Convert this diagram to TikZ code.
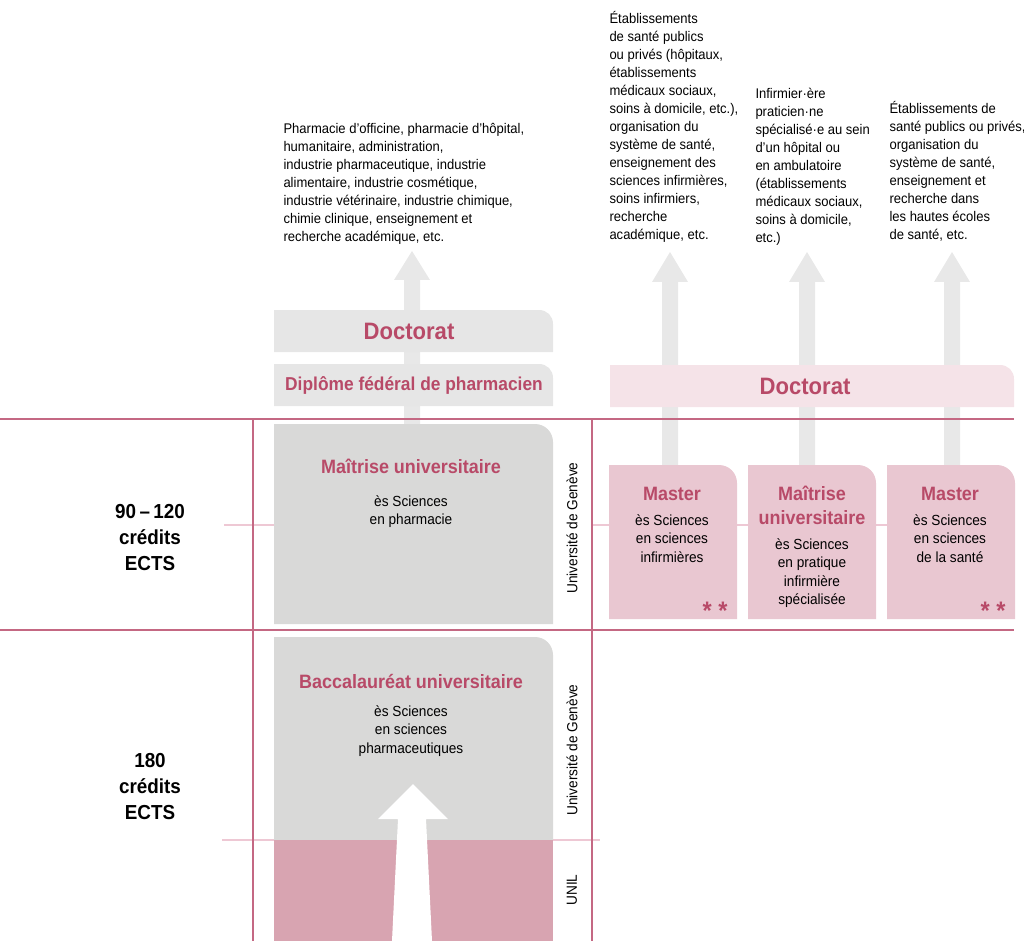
\documentclass[tikz,border=0pt]{standalone}
\usepackage{fontspec}
\setmainfont{Liberation Sans}[FakeStretch=0.93]
\definecolor{rosetext}{RGB}{184,74,104}
\definecolor{roseline}{RGB}{196,104,131}
\definecolor{rosesoft}{RGB}{238,200,212}
\definecolor{greybox}{RGB}{217,217,216}
\definecolor{greylight}{RGB}{230,230,230}
\definecolor{greyarrow}{RGB}{232,232,232}
\definecolor{pinkbox}{RGB}{233,199,209}
\definecolor{pinkpale}{RGB}{245,227,232}
\definecolor{unilpink}{RGB}{216,164,177}
\tikzset{every picture/.style={line width=0.75pt}}

\begin{document}
\begin{tikzpicture}[x=0.75pt,y=0.75pt,yscale=-1,xscale=1,
  rule/.style={draw=roseline,line width=1.4pt},
  softline/.style={draw=rosesoft,line width=1pt},
  toptext/.style={anchor=north west,inner sep=0pt,align=left,font=\fontsize{10.5}{13.5}\selectfont},
  boxtitle/.style={anchor=base,inner sep=0pt,align=center,text=rosetext,font=\fontsize{14.5}{18}\selectfont\bfseries},
  boxtext/.style={anchor=north,inner sep=0pt,align=center,font=\fontsize{11}{13.9}\selectfont},
  bigtitle/.style={inner sep=0pt,text=rosetext,font=\fontsize{17.8}{20}\selectfont\bfseries},
  credits/.style={inner sep=0pt,align=center,font=\fontsize{15.2}{19.5}\selectfont\bfseries},
  unitext/.style={rotate=90,inner sep=0pt,font=\fontsize{11}{13}\selectfont},
  stars/.style={inner sep=0pt,text=rosetext,font=\fontsize{19}{19}\selectfont\bfseries}]
\useasboundingbox (0,0) rectangle (1024,941);

%Straight Lines (light guides)
\draw[softline] (224,525) -- (274,525);
\draw[softline] (592,525) -- (1014,525);
\draw[softline] (222,840) -- (600,840);

%Shape: grey arrows
\fill[greyarrow] (404,424) -- (404,280) -- (394,280) -- (412,251) -- (430,280) -- (420,280) -- (420,424) -- cycle;
\fill[greyarrow] (662,465) -- (662,282) -- (652,282) -- (670,252) -- (688,282) -- (678,282) -- (678,465) -- cycle;
\fill[greyarrow] (799,465) -- (799,282) -- (789,282) -- (807,252) -- (825,282) -- (815,282) -- (815,465) -- cycle;
\fill[greyarrow] (944,465) -- (944,282) -- (934,282) -- (952,252) -- (970,282) -- (960,282) -- (960,465) -- cycle;

%Shape: upper boxes
\fill[greylight] (274,352) -- (274,310) -- (539,310) .. controls (547,310) and (553,316) .. (553,324) -- (553,352) -- cycle;
\fill[greylight] (274,406) -- (274,364) -- (539,364) .. controls (547,364) and (553,370) .. (553,378) -- (553,406) -- cycle;
\fill[pinkpale] (610,407) -- (610,365) -- (1000,365) .. controls (1008,365) and (1014,371) .. (1014,379) -- (1014,407) -- cycle;

%Shape: study boxes
\fill[greybox] (274,624) -- (274,424) -- (535,424) .. controls (545,424) and (553,432) .. (553,442) -- (553,624) -- cycle;
\fill[greybox] (274,840) -- (274,637) -- (535,637) .. controls (545,637) and (553,645) .. (553,655) -- (553,840) -- cycle;
\fill[unilpink] (274,840) rectangle (553,941);
\fill[white] (392,941) -- (398,819) -- (378,819) -- (413,784) -- (448,819) -- (426,819) -- (432,941) -- cycle;
\fill[pinkbox] (609,619) -- (609,465) -- (719,465) .. controls (729,465) and (737,473) .. (737,483) -- (737,619) -- cycle;
\fill[pinkbox] (748,619) -- (748,465) -- (858,465) .. controls (868,465) and (876,473) .. (876,483) -- (876,619) -- cycle;
\fill[pinkbox] (887,619) -- (887,465) -- (997,465) .. controls (1007,465) and (1015,473) .. (1015,483) -- (1015,619) -- cycle;

%Straight Lines (grid)
\draw[rule] (0,419) -- (1014,419);
\draw[rule] (0,630) -- (1014,630);
\draw[rule] (253,419) -- (253,941);
\draw[rule] (592,419) -- (592,941);

% Text Node
\node[toptext] (debouches pharma) at (283,123) {Pharmacie d’officine, pharmacie d’hôpital,\\humanitaire, administration,\\industrie pharmaceutique, industrie\\alimentaire, industrie cosmétique,\\industrie vétérinaire, industrie chimique,\\chimie clinique, enseignement et\\recherche académique, etc.};
% Text Node
\node[toptext] (debouches infirm) at (609,11) {Établissements\\de santé publics\\ou privés (hôpitaux,\\établissements\\médicaux sociaux,\\soins à domicile, etc.),\\organisation du\\système de santé,\\enseignement des\\sciences infirmières,\\soins infirmiers,\\recherche\\académique, etc.};
% Text Node
\node[toptext] (debouches pratique) at (755,88) {Infirmier·ère\\praticien·ne\\spécialisé·e au sein\\d’un hôpital ou\\en ambulatoire\\(établissements\\médicaux sociaux,\\soins à domicile,\\etc.)};
% Text Node
\node[toptext] (debouches sante) at (889,101) {Établissements de\\santé publics ou privés,\\organisation du\\système de santé,\\enseignement et\\recherche dans\\les hautes écoles\\de santé, etc.};

% Text Node
\node[bigtitle] (doctorat pharma) at (409,331) {Doctorat};
\node[bigtitle,font=\fontsize{14}{16}\selectfont\bfseries] (diplome) at (414,385) {Diplôme fédéral de pharmacien};
\node[bigtitle] (doctorat sante) at (805,386) {Doctorat};

% Text Node
\node[boxtitle] (maitrise pharma) at (411,473) {Maîtrise universitaire};
\node[boxtext] (maitrise pharma sub) at (411,495) {ès Sciences\\en pharmacie};
\node[boxtitle] (bachelor pharma) at (411,688) {Baccalauréat universitaire};
\node[boxtext] (bachelor pharma sub) at (411,705) {ès Sciences\\en sciences\\pharmaceutiques};

% Text Node
\node[boxtitle] (master infirm) at (672,500) {Master};
\node[boxtext] (master infirm sub) at (672,514) {ès Sciences\\en sciences\\infirmières};
\node[boxtitle] (maitrise pratique) at (812,524) {Maîtrise\\universitaire};
\node[boxtext] (maitrise pratique sub) at (812,538) {ès Sciences\\en pratique\\infirmière\\spécialisée};
\node[boxtitle] (master sante) at (950,500) {Master};
\node[boxtext] (master sante sub) at (950,514) {ès Sciences\\en sciences\\de la santé};
\node[stars] (stars infirm) at (715,611) {* *};
\node[stars] (stars sante) at (993,611) {* *};

% Text Node
\node[credits] (credits master) at (150,538) {90\,–\,120\\crédits\\ECTS};
\node[credits] (credits bachelor) at (150,787) {180\\crédits\\ECTS};

% Text Node
\node[unitext] (unige master) at (572,528) {Université de Genève};
\node[unitext] (unige bachelor) at (572,750) {Université de Genève};
\node[unitext] (unil) at (572,890) {UNIL};
\end{tikzpicture}
\end{document}
